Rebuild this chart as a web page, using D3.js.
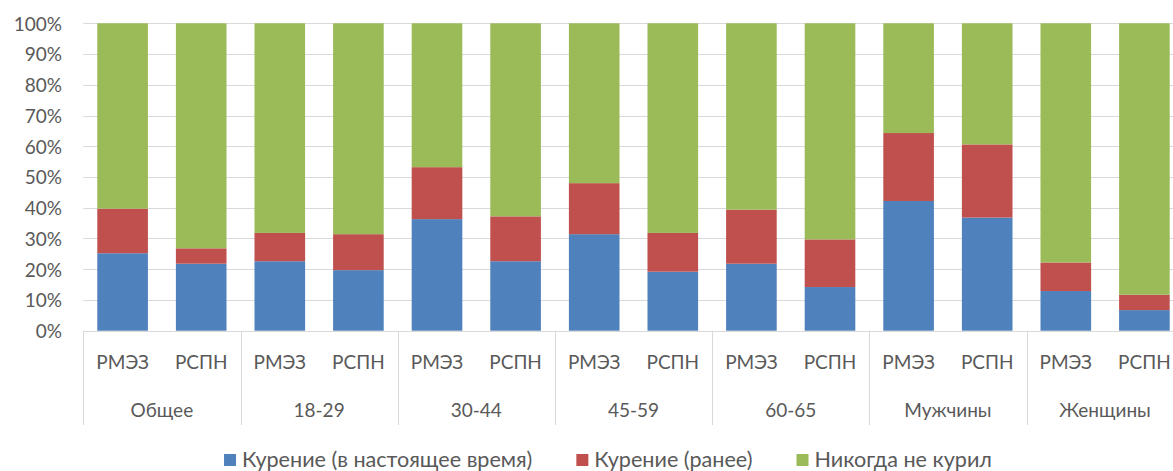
<!DOCTYPE html>
<html>
<head>
<meta charset="utf-8">
<script src="https://cdn.jsdelivr.net/npm/d3@7/dist/d3.min.js"></script>
<style>
  html, body { margin: 0; padding: 0; background: #fff; }
  svg { display: block; font-family: Lato, "Open Sans", sans-serif; }
</style>
</head>
<body>
<svg id="chart" width="1173" height="471"></svg>
<script>
// Smoking status by group, two surveys (РМЭЗ / РСПН), shares in %
const groups = ["Общее", "18-29", "30-44", "45-59", "60-65", "Мужчины", "Женщины"];
const surveys = ["РМЭЗ", "РСПН"];
const seriesNames = ["Курение (в настоящее время)", "Курение (ранее)", "Никогда не курил"];
const seriesColors = ["#4f81bd", "#c0504d", "#9bbb59"];
const current = [25.2, 21.8, 22.6, 19.7, 36.3, 22.6, 31.4, 19.2, 21.8, 14.2, 42.2, 36.8, 12.9, 6.7];
const former  = [14.5, 5.0, 9.2, 11.7, 16.9, 14.6, 16.6, 12.6, 17.6, 15.5, 22.1, 23.8, 9.3, 5.0];
const never   = [60.3, 73.2, 68.2, 68.6, 46.8, 62.8, 52.0, 68.2, 60.6, 70.3, 35.7, 39.4, 77.8, 88.3];
const yTicks = [0, 10, 20, 30, 40, 50, 60, 70, 80, 90, 100];

(function () {
const rows = current.map((c, i) => ({
  idx: i,
  group: groups[Math.floor(i / surveys.length)],
  survey: surveys[i % surveys.length],
  s0: c, s1: former[i], s2: never[i]
}));

const svg = d3.select("#chart");
const plotLeft = 83.3, plotRight = 1183.7, plotTop = 23.3, plotBottom = 330.7;
const labelColor = "#595959";
const lineColor = "#d9d9d9";

const x = d3.scaleBand()
  .domain(rows.map(r => r.idx))
  .range([plotLeft, plotRight])
  .paddingInner(0.356)
  .paddingOuter(0.178);

const y = d3.scaleLinear().domain([0, 100]).range([plotBottom, plotTop]);

// horizontal gridlines
svg.append("g")
  .selectAll("line")
  .data(yTicks)
  .join("line")
  .attr("x1", plotLeft).attr("x2", plotRight)
  .attr("y1", d => Math.round(y(d)) + 0.5).attr("y2", d => Math.round(y(d)) + 0.5)
  .attr("stroke", lineColor).attr("stroke-width", 1);

// y axis labels
const yAxis = d3.axisLeft(y).tickValues(yTicks).tickFormat(d => d + "%").tickSize(0).tickPadding(0);
const yg = svg.append("g").attr("transform", "translate(62,0.7)").call(yAxis);
yg.select(".domain").remove();
yg.selectAll("text")
  .attr("fill", labelColor)
  .style("font-size", "19px")
  .style("font-family", "Lato, sans-serif");

// stacked bars
const stack = d3.stack().keys(["s0", "s1", "s2"]);
const layers = stack(rows);
svg.append("g")
  .selectAll("g")
  .data(layers)
  .join("g")
  .attr("fill", (d, i) => seriesColors[i])
  .selectAll("rect")
  .data(d => d)
  .join("rect")
  .attr("x", d => x(d.data.idx))
  .attr("width", x.bandwidth())
  .attr("y", d => y(d[1]))
  .attr("height", d => y(d[0]) - y(d[1]));

// category axis line and group separators
const groupWidth = (plotRight - plotLeft) / groups.length;
const axisG = svg.append("g");
axisG.append("line")
  .attr("x1", plotLeft).attr("x2", plotRight)
  .attr("y1", Math.round(plotBottom) + 0.5).attr("y2", Math.round(plotBottom) + 0.5)
  .attr("stroke", lineColor);
axisG.selectAll("line.sep")
  .data(d3.range(groups.length + 1))
  .join("line")
  .attr("class", "sep")
  .attr("x1", i => Math.round(plotLeft + i * groupWidth) + 0.5)
  .attr("x2", i => Math.round(plotLeft + i * groupWidth) + 0.5)
  .attr("y1", plotBottom).attr("y2", 425)
  .attr("stroke", lineColor);

// survey labels under each bar
axisG.selectAll("text.survey")
  .data(rows)
  .join("text")
  .attr("class", "survey")
  .attr("x", d => x(d.idx) + x.bandwidth() / 2)
  .attr("y", 369)
  .attr("text-anchor", "middle")
  .attr("fill", labelColor)
  .style("font-size", "19px")
  .text(d => d.survey);

// group labels
axisG.selectAll("text.group")
  .data(groups)
  .join("text")
  .attr("class", "group")
  .attr("x", (d, i) => plotLeft + (i + 0.5) * groupWidth)
  .attr("y", 417.3)
  .attr("text-anchor", "middle")
  .attr("fill", labelColor)
  .style("font-size", "19px")
  .text(d => d);

// legend
const legend = svg.append("g");
const items = legend.selectAll("g")
  .data(seriesNames)
  .join("g");
items.append("rect")
  .attr("width", 12).attr("height", 12)
  .attr("y", 454)
  .attr("fill", (d, i) => seriesColors[i]);
items.append("text")
  .attr("x", 18)
  .attr("y", 467)
  .attr("fill", labelColor)
  .style("font-size", "21.6px")
  .text(d => d);
const widths = [];
items.each(function () { widths.push(this.getBBox().width); });
const gap = 44;
const total = d3.sum(widths) + gap * (widths.length - 1);
let cx = 608 - total / 2;
items.attr("transform", (d, i) => {
  const t = `translate(${cx},0)`;
  cx += widths[i] + gap;
  return t;
});
})();
</script>
</body>
</html>
